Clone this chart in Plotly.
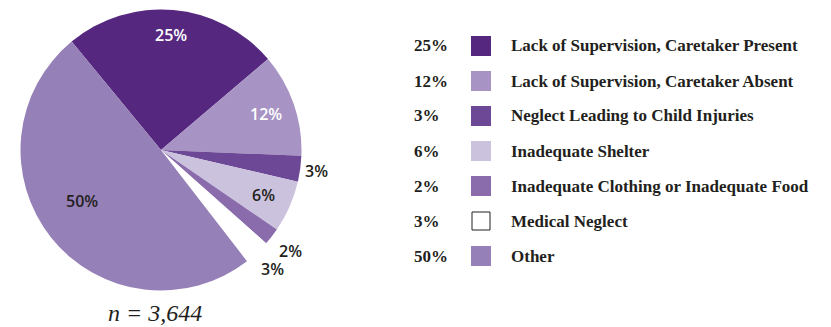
import math
import plotly.graph_objects as go

# Neglect allegation categories and their shares (%)
categories = [
    "Lack of Supervision, Caretaker Present",
    "Lack of Supervision, Caretaker Absent",
    "Neglect Leading to Child Injuries",
    "Inadequate Shelter",
    "Inadequate Clothing or Inadequate Food",
    "Medical Neglect",
    "Other",
]
values = [25, 12, 3, 6, 2, 3, 50]
pct_labels = [f"{v}%" for v in values]
n_total = "3,644"

# Styling
colors = ["#56277f", "#a794c4", "#6d4896", "#cbc2de", "#8a6cac", "#ffffff", "#9680b8"]
label_colors = ["#ffffff", "#ffffff", "#231f20", "#231f20", "#231f20", "#231f20", "#231f20"]
label_radius = [0.82, 0.79, 1.12, 0.80, 1.17, 1.16, 0.67]
label_turn = [0, 0, 0, 0, 0, 0, 5.5]   # extra angular nudge (deg) per label
TEXT = "#231f20"

W, H = 831, 327
CX, CY, R = 161, 150, 140.5   # pie centre / radius in pixels
ROTATION = -39.5


def px(x):
    return x / W


def py(y):
    return 1 - y / H


fig = go.Figure()
fig.add_trace(go.Pie(
    values=values,
    labels=categories,
    sort=False,
    direction="clockwise",
    rotation=ROTATION,
    marker=dict(colors=colors, line=dict(width=0)),
    textinfo="none",
    hoverinfo="label+percent",
    showlegend=False,
    domain=dict(x=[px(CX - R), px(CX + R)], y=[py(CY + R), py(CY - R)]),
))

annotations = []
shapes = []

# Percentage labels around the pie, placed at each slice's mid-angle
total = sum(values)
start = ROTATION
for v, lab, col, k, turn in zip(values, pct_labels, label_colors, label_radius, label_turn):
    span = v / total * 360
    mid = math.radians(start + span / 2 + turn)
    start += span
    x = CX + k * R * math.sin(mid)
    y = CY - k * R * math.cos(mid)
    annotations.append(dict(
        x=px(x), y=py(y), xref="paper", yref="paper", text=lab, showarrow=False,
        xanchor="center", yanchor="middle",
        font=dict(family="Open Sans", size=16, color=col, weight=600),
    ))

# Sample size caption
annotations.append(dict(
    x=px(155), y=py(313), xref="paper", yref="paper", text="<i>n = " + n_total + "</i>",
    showarrow=False, xanchor="center", yanchor="middle",
    font=dict(family="Liberation Serif", size=24, color=TEXT),
))

# Legend: percentage, swatch, category name
ROW0, ROW_STEP = 46, 35
for i, (cat, lab, col) in enumerate(zip(categories, pct_labels, colors)):
    yc = ROW0 + i * ROW_STEP
    annotations.append(dict(
        x=px(412), y=py(yc), xref="paper", yref="paper", text=lab, showarrow=False,
        xanchor="left", yanchor="middle",
        font=dict(family="Liberation Serif", size=17, color=TEXT, weight="bold"),
    ))
    annotations.append(dict(
        x=px(509), y=py(yc), xref="paper", yref="paper", text=cat, showarrow=False,
        xanchor="left", yanchor="middle",
        font=dict(family="Liberation Serif", size=17, color=TEXT, weight="bold"),
    ))
    if col.lower() == "#ffffff":
        half = 9
        line = dict(color=TEXT, width=1)
    else:
        half = 10
        line = dict(width=0)
    shapes.append(dict(
        type="rect", xref="paper", yref="paper",
        x0=px(481 - half), x1=px(481 + half), y0=py(yc + half), y1=py(yc - half),
        fillcolor=col, line=line,
    ))

fig.update_layout(
    width=W, height=H,
    margin=dict(l=0, r=0, t=0, b=0),
    paper_bgcolor="white",
    plot_bgcolor="white",
    annotations=annotations,
    shapes=shapes,
)

fig.write_html("out.html")
